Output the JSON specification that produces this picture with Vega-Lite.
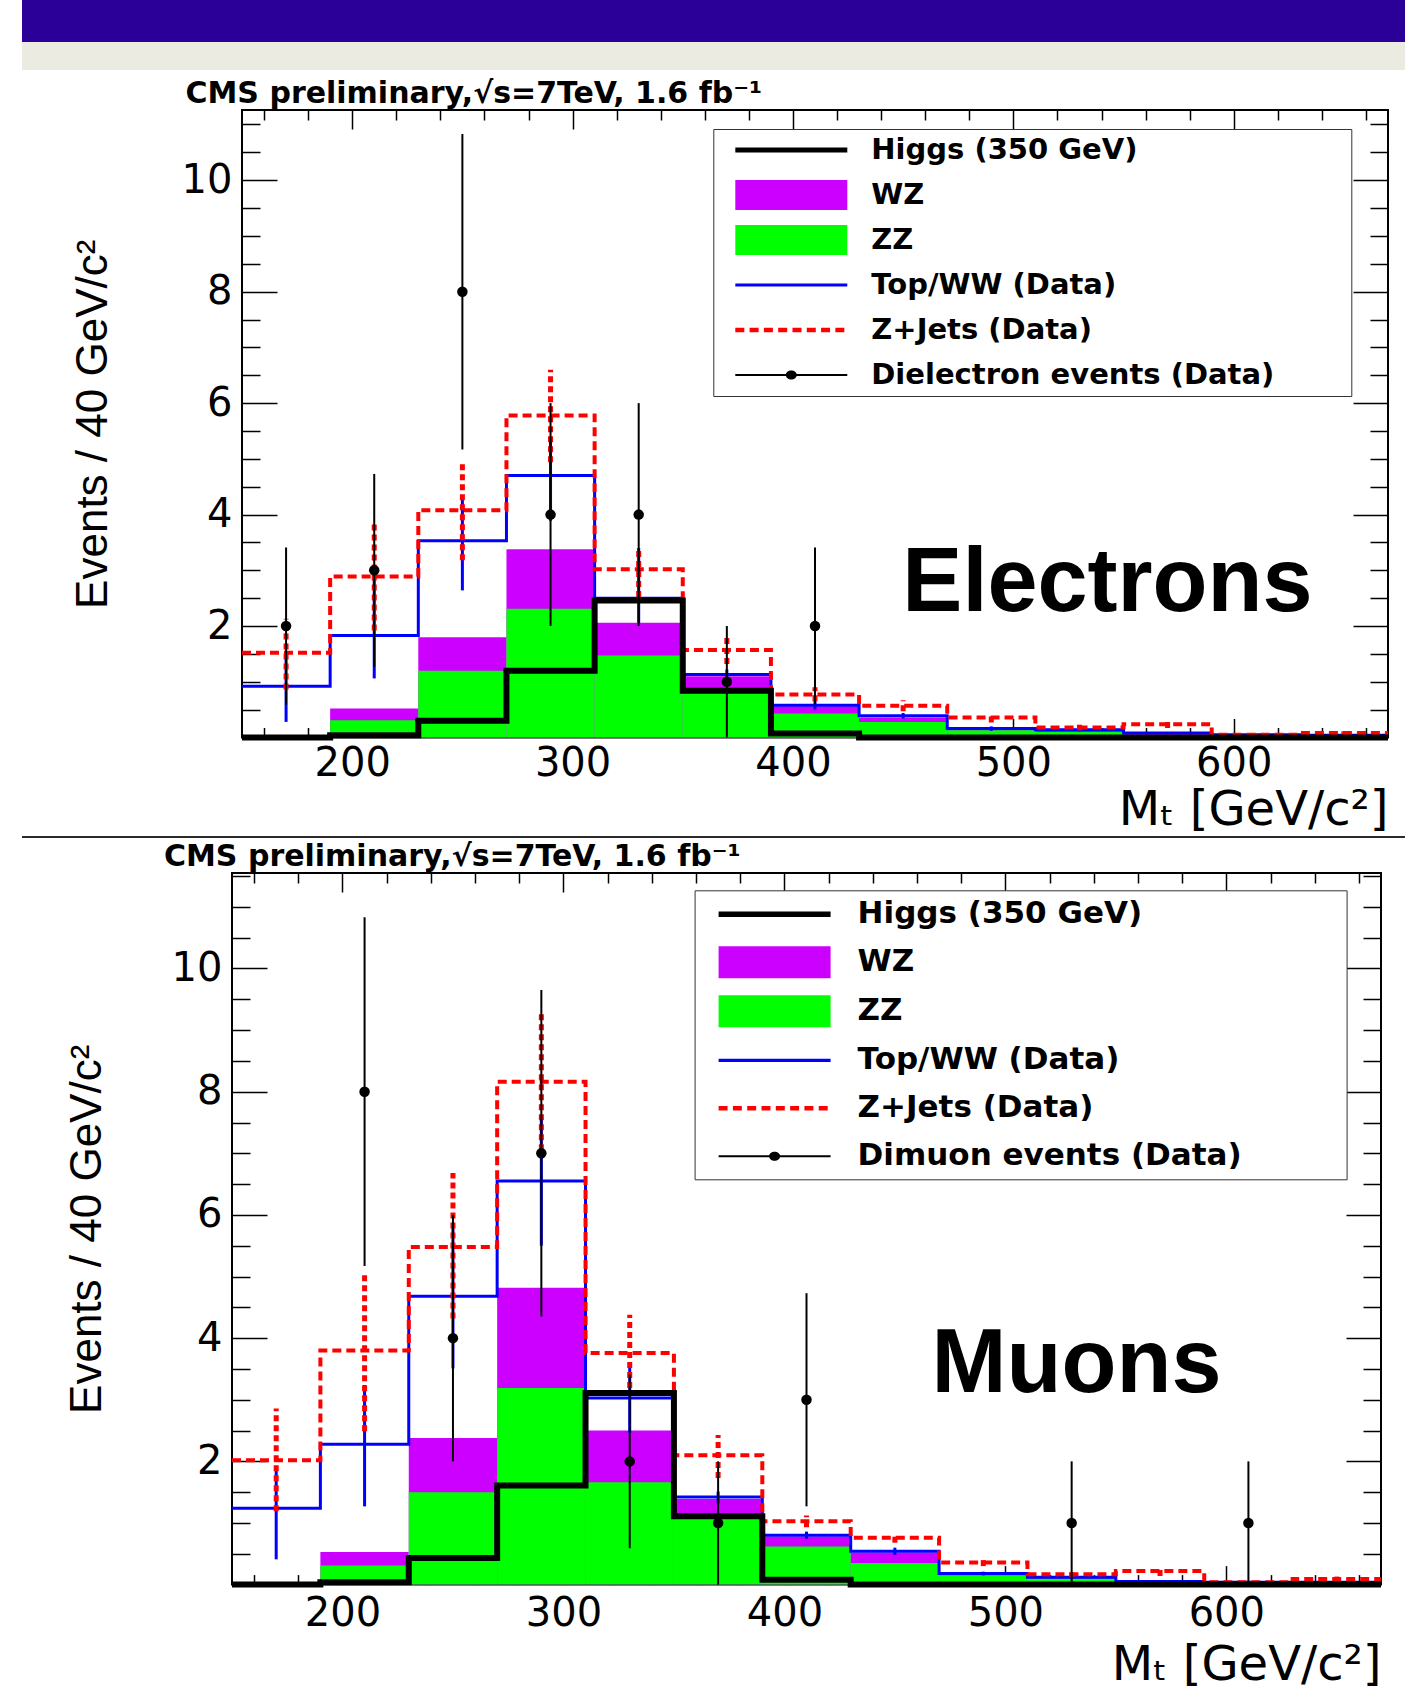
{
  "$schema": "https://vega.github.io/schema/vega-lite/v6.json",
  "background": "white",
  "padding": {"left": 22, "top": 0, "right": 0, "bottom": 0},
  "spacing": 0,
  "config": {
    "view": {"stroke": null},
    "axis": {"grid": false, "domain": false, "labelFont": "DejaVu Sans", "labelFontSize": 40, "labelColor": "#000", "tickColor": "#000", "tickWidth": 1.5, "titleColor": "#000", "titleFontWeight": "normal", "labelFlush": false, "labelOverlap": false, "labelBound": false},
    "legend": {"labelBaseline": "middle"}
  },
  "datasets": {
    "elec": [
      {"lo":150,"hi":190,"mid":170,"zz":0,"wz":0,"tw":0.92,"zj":1.52,"hig":0,"tw_lo":0.28,"tw_hi":1.44,"zj_lo":0.86,"zj_hi":2.13,"n":2,"n_lo":0.59,"n_hi":3.41},
      {"lo":190,"hi":230,"mid":210,"zz":0.31,"wz":0.52,"tw":1.83,"zj":2.89,"hig":0.04,"tw_lo":1.06,"tw_hi":3.06,"zj_lo":1.92,"zj_hi":3.83,"n":3,"n_lo":1.27,"n_hi":4.73},
      {"lo":230,"hi":270,"mid":250,"zz":1.2,"wz":1.8,"tw":3.53,"zj":4.08,"hig":0.3,"tw_lo":2.64,"tw_hi":4.34,"zj_lo":3.18,"zj_hi":4.97,"n":8,"n_lo":5.17,"n_hi":10.83},
      {"lo":270,"hi":310,"mid":290,"zz":2.31,"wz":3.38,"tw":4.7,"zj":5.78,"hig":1.2,"tw_lo":3.89,"tw_hi":5.39,"zj_lo":4.94,"zj_hi":6.6,"n":4,"n_lo":2,"n_hi":6},
      {"lo":310,"hi":350,"mid":330,"zz":1.47,"wz":2.06,"tw":2.5,"zj":3.02,"hig":2.46,"tw_lo":2.05,"tw_hi":3.4,"zj_lo":2.52,"zj_hi":3.41,"n":4,"n_lo":2,"n_hi":6},
      {"lo":350,"hi":390,"mid":370,"zz":0.84,"wz":1.1,"tw":1.13,"zj":1.57,"hig":0.84,"tw_lo":1.02,"tw_hi":1.22,"zj_lo":1.32,"zj_hi":1.83,"n":1,"n_lo":0,"n_hi":2},
      {"lo":390,"hi":430,"mid":410,"zz":0.43,"wz":0.56,"tw":0.58,"zj":0.77,"hig":0.07,"tw_lo":0.5,"tw_hi":0.66,"zj_lo":0.65,"zj_hi":0.9,"n":2,"n_lo":0.59,"n_hi":3.41},
      {"lo":430,"hi":470,"mid":450,"zz":0.28,"wz":0.36,"tw":0.39,"zj":0.57,"hig":0,"tw_lo":0.34,"tw_hi":0.44,"zj_lo":0.47,"zj_hi":0.67,"n":0,"n_lo":0,"n_hi":0},
      {"lo":470,"hi":510,"mid":490,"zz":0.13,"wz":0.15,"tw":0.16,"zj":0.36,"hig":0,"tw_lo":0.12,"tw_hi":0.2,"zj_lo":0.27,"zj_hi":0.45,"n":0,"n_lo":0,"n_hi":0},
      {"lo":510,"hi":550,"mid":530,"zz":0.1,"wz":0.12,"tw":0.14,"zj":0.18,"hig":0,"tw_lo":0.11,"tw_hi":0.17,"zj_lo":0.13,"zj_hi":0.23,"n":0,"n_lo":0,"n_hi":0},
      {"lo":550,"hi":590,"mid":570,"zz":0.04,"wz":0.06,"tw":0.08,"zj":0.24,"hig":0,"tw_lo":0.06,"tw_hi":0.1,"zj_lo":0.17,"zj_hi":0.31,"n":0,"n_lo":0,"n_hi":0},
      {"lo":590,"hi":630,"mid":610,"zz":0.02,"wz":0.03,"tw":0.05,"zj":0.05,"hig":0,"tw_lo":0.04,"tw_hi":0.06,"zj_lo":0.03,"zj_hi":0.07,"n":0,"n_lo":0,"n_hi":0},
      {"lo":630,"hi":670,"mid":650,"zz":0.02,"wz":0.03,"tw":0.04,"zj":0.08,"hig":0,"tw_lo":0.03,"tw_hi":0.05,"zj_lo":0.05,"zj_hi":0.11,"n":0,"n_lo":0,"n_hi":0}
    ],
    "muon": [
      {"lo":150,"hi":190,"mid":170,"zz":0,"wz":0,"tw":1.24,"zj":2.02,"hig":0,"tw_lo":0.41,"tw_hi":1.89,"zj_lo":1.19,"zj_hi":2.86,"n":0,"n_lo":0,"n_hi":0},
      {"lo":190,"hi":230,"mid":210,"zz":0.31,"wz":0.53,"tw":2.28,"zj":3.8,"hig":0.04,"tw_lo":1.27,"tw_hi":3.24,"zj_lo":2.49,"zj_hi":5.05,"n":8,"n_lo":5.17,"n_hi":10.83},
      {"lo":230,"hi":270,"mid":250,"zz":1.5,"wz":2.38,"tw":4.68,"zj":5.48,"hig":0.43,"tw_lo":3.51,"tw_hi":5.84,"zj_lo":4.32,"zj_hi":6.68,"n":4,"n_lo":2,"n_hi":6},
      {"lo":270,"hi":310,"mid":290,"zz":3.19,"wz":4.82,"tw":6.55,"zj":8.16,"hig":1.61,"tw_lo":5.5,"tw_hi":7.6,"zj_lo":7.05,"zj_hi":9.27,"n":7,"n_lo":4.35,"n_hi":9.65},
      {"lo":310,"hi":350,"mid":330,"zz":1.66,"wz":2.5,"tw":3.03,"zj":3.76,"hig":3.11,"tw_lo":2.46,"tw_hi":3.57,"zj_lo":3.19,"zj_hi":4.38,"n":2,"n_lo":0.59,"n_hi":3.41},
      {"lo":350,"hi":390,"mid":370,"zz":1.11,"wz":1.39,"tw":1.42,"zj":2.1,"hig":1.11,"tw_lo":1.32,"tw_hi":1.51,"zj_lo":1.73,"zj_hi":2.43,"n":1,"n_lo":0,"n_hi":2},
      {"lo":390,"hi":430,"mid":410,"zz":0.62,"wz":0.78,"tw":0.8,"zj":1.03,"hig":0.08,"tw_lo":0.74,"tw_hi":0.86,"zj_lo":0.93,"zj_hi":1.12,"n":3,"n_lo":1.27,"n_hi":4.73},
      {"lo":430,"hi":470,"mid":450,"zz":0.35,"wz":0.52,"tw":0.54,"zj":0.76,"hig":0,"tw_lo":0.48,"tw_hi":0.6,"zj_lo":0.68,"zj_hi":0.84,"n":0,"n_lo":0,"n_hi":0},
      {"lo":470,"hi":510,"mid":490,"zz":0.15,"wz":0.17,"tw":0.18,"zj":0.36,"hig":0,"tw_lo":0.15,"tw_hi":0.21,"zj_lo":0.3,"zj_hi":0.42,"n":0,"n_lo":0,"n_hi":0},
      {"lo":510,"hi":550,"mid":530,"zz":0.1,"wz":0.11,"tw":0.12,"zj":0.17,"hig":0,"tw_lo":0.1,"tw_hi":0.14,"zj_lo":0.12,"zj_hi":0.2,"n":1,"n_lo":0,"n_hi":2},
      {"lo":550,"hi":590,"mid":570,"zz":0.02,"wz":0.03,"tw":0.05,"zj":0.22,"hig":0,"tw_lo":0.04,"tw_hi":0.06,"zj_lo":0.14,"zj_hi":0.3,"n":0,"n_lo":0,"n_hi":0},
      {"lo":590,"hi":630,"mid":610,"zz":0.01,"wz":0.02,"tw":0.04,"zj":0.04,"hig":0,"tw_lo":0.03,"tw_hi":0.05,"zj_lo":0.02,"zj_hi":0.06,"n":1,"n_lo":0,"n_hi":2},
      {"lo":630,"hi":670,"mid":650,"zz":0.01,"wz":0.02,"tw":0.04,"zj":0.09,"hig":0,"tw_lo":0.03,"tw_hi":0.05,"zj_lo":0.05,"zj_hi":0.13,"n":0,"n_lo":0,"n_hi":0}
    ],
    "eleg": [{"s":"Higgs (350 GeV)"},{"s":"WZ"},{"s":"ZZ"},{"s":"Top/WW (Data)"},{"s":"Z+Jets (Data)"},{"s":"Dielectron events (Data)"}],
    "mleg": [{"s":"Higgs (350 GeV)"},{"s":"WZ"},{"s":"ZZ"},{"s":"Top/WW (Data)"},{"s":"Z+Jets (Data)"},{"s":"Dimuon events (Data)"}]
  },
  "resolve": {"scale": {"color": "independent", "shape": "independent"}},
  "vconcat": [
    {"width": 1383, "height": 42, "data": {"values": [{}]}, "mark": {"type": "rect", "color": "#2a0099"}, "encoding": {}, "view": {"fill": "#2a0099", "stroke": null}},
    {"width": 1383, "height": 28, "data": {"values": [{}]}, "mark": {"type": "rect", "color": "#ecebe1"}, "encoding": {}, "view": {"fill": "#ecebe1", "stroke": null}},
    {"width": 1383, "height": 7, "data": {"values": [{}]}, "mark": {"type": "rect", "opacity": 0}, "encoding": {}, "view": {"stroke": null}},
    {"spacing": 0, "resolve": {"scale": {"color": "independent", "shape": "independent"}}, "hconcat": [
    {"width": 1, "height": 1, "data": {"values": [{}]}, "mark": {"type": "rect", "opacity": 0}, "encoding": {}, "view": {"stroke": null}},
    {
      "width": 1146, "height": 627.5,
      "view": {"stroke": "black", "strokeWidth": 2},
      "title": {"text": "CMS preliminary,√s=7TeV, 1.6 fb⁻¹", "anchor": "start", "frame": "group", "dx": -56.5, "offset": 0.5, "font": "DejaVu Sans", "fontWeight": "bold", "fontSize": 30, "color": "#000"},
      "data": {"name": "elec"},
      "resolve": {"axis": {"x": "independent", "y": "independent"}},
      "layer": [
        {"mark": {"type": "rect", "color": "#cc00ff"},
         "encoding": {
           "x": {"field": "lo", "type": "quantitative", "scale": {"domain": [150, 670], "nice": false, "zero": false},
                 "axis": {"orient": "bottom", "values": [200,300,400,500,600], "ticks": false, "labelPadding": 6, "title": "Mₜ [GeV/c²]", "titleFont": "DejaVu Sans", "titleFontSize": 48, "titleAnchor": "end", "titleAlign": "right", "titlePadding": 3}},
           "x2": {"field": "hi"},
           "y": {"field": "wz", "type": "quantitative", "scale": {"domain": [0, 11.26], "nice": false},
                 "axis": {"orient": "left", "values": [2,4,6,8,10], "ticks": false, "labelPadding": 10, "title": [" ", "Events / 40 GeV/c²"], "titleFont": "Liberation Sans", "titleFontSize": 44, "titleLineHeight": 47, "titlePadding": 65.5}},
           "y2": {"datum": 0}}},
        {"mark": {"type": "rect", "color": "#00ff00"},
         "encoding": {
           "x": {"field": "lo", "type": "quantitative", "axis": {"orient": "bottom", "values": [200,300,400,500,600], "labels": false, "tickSize": -19, "title": null}},
           "x2": {"field": "hi"},
           "y": {"field": "zz", "type": "quantitative", "axis": {"orient": "left", "values": [2,4,6,8,10], "labels": false, "tickSize": -35, "title": null}},
           "y2": {"datum": 0}}},
        {"transform": [{"fold": ["lo", "hi"], "as": ["k", "edge"]}],
         "mark": {"type": "line", "color": "#0000ff", "strokeWidth": 3, "strokeJoin": "miter"},
         "encoding": {
           "x": {"field": "edge", "type": "quantitative", "axis": {"orient": "bottom", "values": [160,180,220,240,260,280,320,340,360,380,420,440,460,480,520,540,560,580,620,640,660], "labels": false, "tickSize": -10, "title": null}},
           "y": {"field": "tw", "type": "quantitative", "axis": {"orient": "left", "values": [0.5,1,1.5,2.5,3,3.5,4.5,5,5.5,6.5,7,7.5,8.5,9,9.5,10.5,11], "labels": false, "tickSize": -18, "title": null}},
           "order": {"value": null}}},
        {"transform": [{"fold": ["lo", "hi"], "as": ["k", "edge"]}],
         "mark": {"type": "line", "color": "#ff0000", "strokeWidth": 4, "strokeDash": [9, 5], "strokeJoin": "miter"},
         "encoding": {
           "x": {"field": "edge", "type": "quantitative", "axis": {"orient": "top", "values": [200,300,400,500,600], "labels": false, "tickSize": -19, "title": null}},
           "y": {"field": "zj", "type": "quantitative", "axis": {"orient": "right", "values": [2,4,6,8,10], "labels": false, "tickSize": -35, "title": null}},
           "order": {"value": null}}},
        {"mark": {"type": "rule", "color": "#0000ff", "strokeWidth": 3},
         "encoding": {
           "x": {"field": "mid", "type": "quantitative", "axis": {"orient": "top", "values": [160,180,220,240,260,280,320,340,360,380,420,440,460,480,520,540,560,580,620,640,660], "labels": false, "tickSize": -10, "title": null}},
           "y": {"field": "tw_lo", "type": "quantitative", "axis": {"orient": "right", "values": [0.5,1,1.5,2.5,3,3.5,4.5,5,5.5,6.5,7,7.5,8.5,9,9.5,10.5,11], "labels": false, "tickSize": -18, "title": null}},
           "y2": {"field": "tw_hi"}}},
        {"mark": {"type": "rule", "color": "#ff0000", "strokeWidth": 5, "strokeDash": [6, 4]},
         "encoding": {
           "x": {"field": "mid", "type": "quantitative", "axis": null},
           "y": {"field": "zj_lo", "type": "quantitative", "axis": null},
           "y2": {"field": "zj_hi"}}},
        {"transform": [{"fold": ["lo", "hi"], "as": ["k", "edge"]}],
         "mark": {"type": "line", "color": "#000000", "strokeWidth": 6, "strokeJoin": "miter"},
         "encoding": {
           "x": {"field": "edge", "type": "quantitative", "axis": null},
           "y": {"field": "hig", "type": "quantitative", "axis": null},
           "order": {"value": null}}},
        {"transform": [{"filter": "datum.n > 0"}],
         "mark": {"type": "rule", "color": "#000000", "strokeWidth": 2},
         "encoding": {
           "x": {"field": "mid", "type": "quantitative", "axis": null},
           "y": {"field": "n_lo", "type": "quantitative", "axis": null},
           "y2": {"field": "n_hi"}}},
        {"transform": [{"filter": "datum.n > 0"}],
         "mark": {"type": "point", "filled": true, "color": "#000000", "size": 110, "shape": "circle", "opacity": 1},
         "encoding": {
           "x": {"field": "mid", "type": "quantitative", "axis": null},
           "y": {"field": "n", "type": "quantitative", "axis": null}}},
        {"data": {"values": [{"t": "Electrons"}]},
         "mark": {"type": "text", "font": "Liberation Sans", "fontWeight": "bold", "fontSize": 90, "align": "center", "baseline": "alphabetic", "color": "#000000"},
         "encoding": {
           "text": {"field": "t"},
           "x": {"datum": 542.7, "type": "quantitative", "axis": null},
           "y": {"datum": 2.27, "type": "quantitative", "axis": null}}},
        {"data": {"name": "eleg"},
         "transform": [{"filter": "false"}],
         "mark": {"type": "point", "filled": true, "opacity": 1, "size": 900},
         "encoding": {
           "x": {"datum": 400, "type": "quantitative", "axis": null},
           "y": {"datum": 5, "type": "quantitative", "axis": null},
           "color": {"field": "s", "type": "nominal",
             "scale": {"domain": ["Higgs (350 GeV)", "WZ", "ZZ", "Top/WW (Data)", "Z+Jets (Data)", "Dielectron events (Data)"], "range": ["#000000", "#cc00ff", "#00ff00", "#0000ff", "#ff0000", "#000000"]},
             "legend": {"orient": "none", "legendX": 471.3, "legendY": 19, "direction": "vertical", "title": null, "padding": 6, "rowPadding": 15, "labelOffset": 122, "symbolSize": 900, "symbolStrokeWidth": 0, "symbolOpacity": 1, "labelFont": "DejaVu Sans", "labelFontWeight": "bold", "labelFontSize": 29, "labelColor": "#000000", "labelLimit": 2000, "strokeColor": "#333333", "fillColor": "#ffffff"}},
           "shape": {"field": "s", "type": "nominal",
             "scale": {"domain": ["Higgs (350 GeV)", "WZ", "ZZ", "Top/WW (Data)", "Z+Jets (Data)", "Dielectron events (Data)"],
               "range": [
                 "M0.067,-0.167H7.533V0.167H0.067ZM40.73,0",
                 "M0.067,-1H7.533V1H0.067Z",
                 "M0.067,-1H7.533V1H0.067Z",
                 "M0.067,-0.1H7.533V0.1H0.067Z",
                 "M0.067,-0.15h0.6v0.3h-0.6zM1.02,-0.15h0.6v0.3h-0.6zM1.973,-0.15h0.6v0.3h-0.6zM2.926,-0.15h0.6v0.3h-0.6zM3.879,-0.15h0.6v0.3h-0.6zM4.832,-0.15h0.6v0.3h-0.6zM5.785,-0.15h0.6v0.3h-0.6zM6.738,-0.15h0.6v0.3h-0.6z",
                 "M0.067,-0.067H7.533V0.067H0.067ZM3.433,0A0.367,0.3 0 1,1 4.167,0A0.367,0.3 0 1,1 3.433,0Z"]},
             "legend": {"orient": "none", "legendX": 471.3, "legendY": 19, "direction": "vertical", "title": null, "padding": 6, "rowPadding": 15, "labelOffset": 122, "symbolSize": 900, "symbolStrokeWidth": 0, "symbolOpacity": 1, "labelFont": "DejaVu Sans", "labelFontWeight": "bold", "labelFontSize": 29, "labelColor": "#000000", "labelLimit": 2000, "strokeColor": "#333333", "fillColor": "#ffffff"}}}}
      ]
    }]},
    {"width": 1383, "height": 2, "data": {"values": [{}]}, "mark": {"type": "rect", "color": "#2b2b2b"}, "encoding": {}, "view": {"fill": "#2b2b2b", "stroke": null}},
    {"width": 1383, "height": 2, "data": {"values": [{}]}, "mark": {"type": "rect", "opacity": 0}, "encoding": {}, "view": {"stroke": null}},
    {"spacing": 0, "resolve": {"scale": {"color": "independent", "shape": "independent"}}, "hconcat": [
    {"width": 1, "height": 1, "data": {"values": [{}]}, "mark": {"type": "rect", "opacity": 0}, "encoding": {}, "view": {"stroke": null}},
    {
      "width": 1149, "height": 711.6,
      "view": {"stroke": "black", "strokeWidth": 2},
      "title": {"text": "CMS preliminary,√s=7TeV, 1.6 fb⁻¹", "anchor": "start", "frame": "group", "dx": -68, "offset": 0.5, "font": "DejaVu Sans", "fontWeight": "bold", "fontSize": 30, "color": "#000"},
      "data": {"name": "muon"},
      "resolve": {"axis": {"x": "independent", "y": "independent"}},
      "layer": [
        {"mark": {"type": "rect", "color": "#cc00ff"},
         "encoding": {
           "x": {"field": "lo", "type": "quantitative", "scale": {"domain": [150, 670], "nice": false, "zero": false},
                 "axis": {"orient": "bottom", "values": [200,300,400,500,600], "ticks": false, "labelPadding": 9, "title": "Mₜ [GeV/c²]", "titleFont": "DejaVu Sans", "titleFontSize": 48, "titleAnchor": "end", "titleAlign": "right", "titlePadding": 8}},
           "x2": {"field": "hi"},
           "y": {"field": "wz", "type": "quantitative", "scale": {"domain": [0, 11.55], "nice": false},
                 "axis": {"orient": "left", "values": [2,4,6,8,10], "ticks": false, "labelPadding": 10, "title": [" ", "Events / 40 GeV/c²"], "titleFont": "Liberation Sans", "titleFontSize": 44, "titleLineHeight": 41, "titlePadding": 61.6}},
           "y2": {"datum": 0}}},
        {"mark": {"type": "rect", "color": "#00ff00"},
         "encoding": {
           "x": {"field": "lo", "type": "quantitative", "axis": {"orient": "bottom", "values": [200,300,400,500,600], "labels": false, "tickSize": -19, "title": null}},
           "x2": {"field": "hi"},
           "y": {"field": "zz", "type": "quantitative", "axis": {"orient": "left", "values": [2,4,6,8,10], "labels": false, "tickSize": -35, "title": null}},
           "y2": {"datum": 0}}},
        {"transform": [{"fold": ["lo", "hi"], "as": ["k", "edge"]}],
         "mark": {"type": "line", "color": "#0000ff", "strokeWidth": 3, "strokeJoin": "miter"},
         "encoding": {
           "x": {"field": "edge", "type": "quantitative", "axis": {"orient": "bottom", "values": [160,180,220,240,260,280,320,340,360,380,420,440,460,480,520,540,560,580,620,640,660], "labels": false, "tickSize": -10, "title": null}},
           "y": {"field": "tw", "type": "quantitative", "axis": {"orient": "left", "values": [0.5,1,1.5,2.5,3,3.5,4.5,5,5.5,6.5,7,7.5,8.5,9,9.5,10.5,11,11.5], "labels": false, "tickSize": -18, "title": null}},
           "order": {"value": null}}},
        {"transform": [{"fold": ["lo", "hi"], "as": ["k", "edge"]}],
         "mark": {"type": "line", "color": "#ff0000", "strokeWidth": 4, "strokeDash": [9, 5], "strokeJoin": "miter"},
         "encoding": {
           "x": {"field": "edge", "type": "quantitative", "axis": {"orient": "top", "values": [200,300,400,500,600], "labels": false, "tickSize": -19, "title": null}},
           "y": {"field": "zj", "type": "quantitative", "axis": {"orient": "right", "values": [2,4,6,8,10], "labels": false, "tickSize": -35, "title": null}},
           "order": {"value": null}}},
        {"mark": {"type": "rule", "color": "#0000ff", "strokeWidth": 3},
         "encoding": {
           "x": {"field": "mid", "type": "quantitative", "axis": {"orient": "top", "values": [160,180,220,240,260,280,320,340,360,380,420,440,460,480,520,540,560,580,620,640,660], "labels": false, "tickSize": -10, "title": null}},
           "y": {"field": "tw_lo", "type": "quantitative", "axis": {"orient": "right", "values": [0.5,1,1.5,2.5,3,3.5,4.5,5,5.5,6.5,7,7.5,8.5,9,9.5,10.5,11,11.5], "labels": false, "tickSize": -18, "title": null}},
           "y2": {"field": "tw_hi"}}},
        {"mark": {"type": "rule", "color": "#ff0000", "strokeWidth": 5, "strokeDash": [6, 4]},
         "encoding": {
           "x": {"field": "mid", "type": "quantitative", "axis": null},
           "y": {"field": "zj_lo", "type": "quantitative", "axis": null},
           "y2": {"field": "zj_hi"}}},
        {"transform": [{"fold": ["lo", "hi"], "as": ["k", "edge"]}],
         "mark": {"type": "line", "color": "#000000", "strokeWidth": 6, "strokeJoin": "miter"},
         "encoding": {
           "x": {"field": "edge", "type": "quantitative", "axis": null},
           "y": {"field": "hig", "type": "quantitative", "axis": null},
           "order": {"value": null}}},
        {"transform": [{"filter": "datum.n > 0"}],
         "mark": {"type": "rule", "color": "#000000", "strokeWidth": 2},
         "encoding": {
           "x": {"field": "mid", "type": "quantitative", "axis": null},
           "y": {"field": "n_lo", "type": "quantitative", "axis": null},
           "y2": {"field": "n_hi"}}},
        {"transform": [{"filter": "datum.n > 0"}],
         "mark": {"type": "point", "filled": true, "color": "#000000", "size": 110, "shape": "circle", "opacity": 1},
         "encoding": {
           "x": {"field": "mid", "type": "quantitative", "axis": null},
           "y": {"field": "n", "type": "quantitative", "axis": null}}},
        {"data": {"values": [{"t": "Muons"}]},
         "mark": {"type": "text", "font": "Liberation Sans", "fontWeight": "bold", "fontSize": 90, "align": "center", "baseline": "alphabetic", "color": "#000000"},
         "encoding": {
           "text": {"field": "t"},
           "x": {"datum": 532.2, "type": "quantitative", "axis": null},
           "y": {"datum": 3.13, "type": "quantitative", "axis": null}}},
        {"data": {"name": "mleg"},
         "transform": [{"filter": "false"}],
         "mark": {"type": "point", "filled": true, "opacity": 1, "size": 1024},
         "encoding": {
           "x": {"datum": 400, "type": "quantitative", "axis": null},
           "y": {"datum": 5, "type": "quantitative", "axis": null},
           "color": {"field": "s", "type": "nominal",
             "scale": {"domain": ["Higgs (350 GeV)", "WZ", "ZZ", "Top/WW (Data)", "Z+Jets (Data)", "Dimuon events (Data)"], "range": ["#000000", "#cc00ff", "#00ff00", "#0000ff", "#ff0000", "#000000"]},
             "legend": {"orient": "none", "legendX": 462.6, "legendY": 17.3, "direction": "vertical", "title": null, "padding": 8, "rowPadding": 17, "labelOffset": 123, "symbolSize": 1024, "symbolStrokeWidth": 0, "symbolOpacity": 1, "labelFont": "DejaVu Sans", "labelFontWeight": "bold", "labelFontSize": 31, "labelColor": "#000000", "labelLimit": 2000, "strokeColor": "#333333", "fillColor": "#ffffff"}},
           "shape": {"field": "s", "type": "nominal",
             "scale": {"domain": ["Higgs (350 GeV)", "WZ", "ZZ", "Top/WW (Data)", "Z+Jets (Data)", "Dimuon events (Data)"],
               "range": [
                 "M0,-0.17H7V0.17H0ZM38.7,0",
                 "M0,-1H7V1H0Z",
                 "M0,-1H7V1H0Z",
                 "M0,-0.1H7V0.1H0Z",
                 "M0,-0.14h0.56v0.28h-0.56zM0.894,-0.14h0.56v0.28h-0.56zM1.788,-0.14h0.56v0.28h-0.56zM2.682,-0.14h0.56v0.28h-0.56zM3.576,-0.14h0.56v0.28h-0.56zM4.47,-0.14h0.56v0.28h-0.56zM5.364,-0.14h0.56v0.28h-0.56zM6.258,-0.14h0.56v0.28h-0.56z",
                 "M0,-0.0625H7V0.0625H0ZM3.156,0A0.344,0.28 0 1,1 3.844,0A0.344,0.28 0 1,1 3.156,0Z"]},
             "legend": {"orient": "none", "legendX": 462.6, "legendY": 17.3, "direction": "vertical", "title": null, "padding": 8, "rowPadding": 17, "labelOffset": 123, "symbolSize": 1024, "symbolStrokeWidth": 0, "symbolOpacity": 1, "labelFont": "DejaVu Sans", "labelFontWeight": "bold", "labelFontSize": 31, "labelColor": "#000000", "labelLimit": 2000, "strokeColor": "#333333", "fillColor": "#ffffff"}}}}
      ]
    }]}
  ]
}
